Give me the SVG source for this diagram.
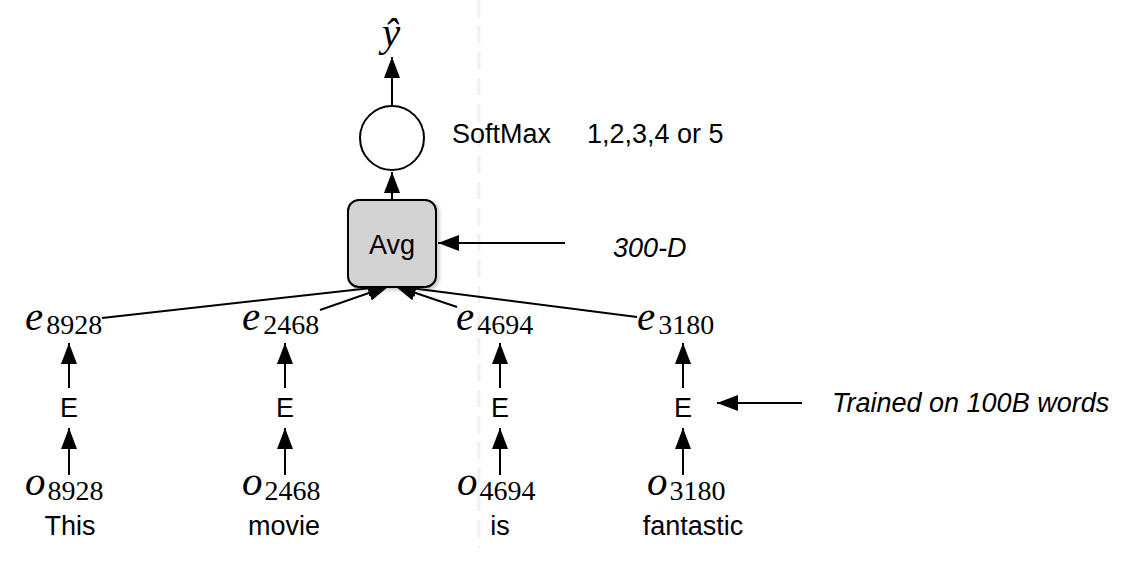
<svg xmlns="http://www.w3.org/2000/svg" width="1148" height="564" viewBox="0 0 1148 564">
<style>
.sans{font-family:"Liberation Sans",Arial,sans-serif;font-size:27px;fill:#000}
.it{font-style:italic}
.math{font-family:"Liberation Serif","Times New Roman",serif;font-style:italic;font-size:41px;fill:#000}
.sub{font-style:normal;font-size:28px}
.ln{stroke:#000;stroke-width:2;fill:none}
</style>
<defs>
<marker id="ah" markerUnits="userSpaceOnUse" markerWidth="22" markerHeight="16" refX="21" refY="8" orient="auto">
<path d="M0,0 L21,8 L0,16 z" fill="#000"/>
</marker>
<filter id="sh" x="-20%" y="-20%" width="140%" height="140%">
<feDropShadow dx="2" dy="2" stdDeviation="2" flood-color="#000" flood-opacity="0.25"/>
</filter>
</defs>
<rect width="1148" height="564" fill="#fff"/>
<line x1="479" y1="0" x2="479" y2="548" stroke="#f0f0f0" stroke-width="3" stroke-dasharray="17 9"/>

<g id="connectors">
<line class="ln" x1="392" y1="106" x2="392" y2="57" marker-end="url(#ah)"/>
<line class="ln" x1="392" y1="200" x2="392" y2="172" marker-end="url(#ah)"/>
<line class="ln" x1="565" y1="243" x2="438" y2="243" marker-end="url(#ah)"/>
<line class="ln" x1="802" y1="403" x2="717" y2="403" marker-end="url(#ah)"/>
<line class="ln" x1="102" y1="318" x2="389" y2="286" marker-end="url(#ah)"/>
<line class="ln" x1="320" y1="310" x2="389" y2="286" marker-end="url(#ah)"/>
<line class="ln" x1="457" y1="307" x2="395" y2="286" marker-end="url(#ah)"/>
<line class="ln" x1="637" y1="317" x2="395" y2="286" marker-end="url(#ah)"/>
<line class="ln" x1="69" y1="388" x2="69" y2="343" marker-end="url(#ah)"/>
<line class="ln" x1="69" y1="475" x2="69" y2="428" marker-end="url(#ah)"/>
<line class="ln" x1="285" y1="388" x2="285" y2="343" marker-end="url(#ah)"/>
<line class="ln" x1="285" y1="475" x2="285" y2="428" marker-end="url(#ah)"/>
<line class="ln" x1="500" y1="388" x2="500" y2="343" marker-end="url(#ah)"/>
<line class="ln" x1="500" y1="475" x2="500" y2="428" marker-end="url(#ah)"/>
<line class="ln" x1="683" y1="388" x2="683" y2="343" marker-end="url(#ah)"/>
<line class="ln" x1="683" y1="475" x2="683" y2="428" marker-end="url(#ah)"/>
</g>

<g id="yhat"><text class="math" x="391" y="46" text-anchor="middle" font-size="36">ŷ</text></g>
<g id="softmax">
<circle cx="392" cy="138" r="32" fill="#fff" stroke="#000" stroke-width="2"/>
<text class="sans" x="452" y="143">SoftMax</text>
</g>
<g id="classes"><text class="sans" x="587" y="143">1,2,3,4 or 5</text></g>
<g id="avg">
<rect x="348" y="200" width="88" height="87" rx="11" fill="#d3d3d3" stroke="#000" stroke-width="2" filter="url(#sh)"/>
<text class="sans" x="392" y="254" text-anchor="middle">Avg</text>
</g>
<g id="dim"><text class="sans it" x="613" y="257">300-D</text></g>
<g id="trained"><text class="sans it" x="832" y="412">Trained on 100B words</text></g>

<g id="col1">
<text class="math" x="25" y="330">e<tspan class="sub" dx="3" dy="4">8928</tspan></text>
<text class="sans" x="69" y="417" text-anchor="middle">E</text>
<text class="math" x="25" y="495">o<tspan class="sub" dx="2" dy="5">8928</tspan></text>
<text class="sans" x="70" y="535" text-anchor="middle">This</text>
</g>
<g id="col2">
<text class="math" x="242" y="330">e<tspan class="sub" dx="3" dy="4">2468</tspan></text>
<text class="sans" x="285" y="417" text-anchor="middle">E</text>
<text class="math" x="242" y="495">o<tspan class="sub" dx="2" dy="5">2468</tspan></text>
<text class="sans" x="284" y="535" text-anchor="middle">movie</text>
</g>
<g id="col3">
<text class="math" x="456" y="330">e<tspan class="sub" dx="3" dy="4">4694</tspan></text>
<text class="sans" x="500" y="417" text-anchor="middle">E</text>
<text class="math" x="457" y="495">o<tspan class="sub" dx="2" dy="5">4694</tspan></text>
<text class="sans" x="500" y="535" text-anchor="middle">is</text>
</g>
<g id="col4">
<text class="math" x="637" y="330">e<tspan class="sub" dx="3" dy="4">3180</tspan></text>
<text class="sans" x="683" y="417" text-anchor="middle">E</text>
<text class="math" x="647" y="495">o<tspan class="sub" dx="2" dy="5">3180</tspan></text>
<text class="sans" x="693" y="535" text-anchor="middle">fantastic</text>
</g>
</svg>
